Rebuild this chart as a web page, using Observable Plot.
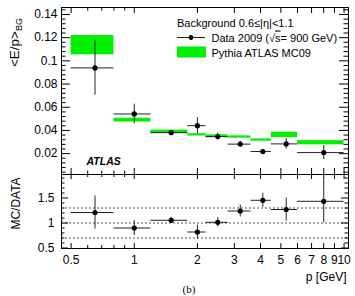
<!DOCTYPE html>
<html><head><meta charset="utf-8">
<script src="https://cdn.jsdelivr.net/npm/d3@7"></script>
<script src="https://cdn.jsdelivr.net/npm/@observablehq/plot@0.6"></script>
<style>
body{margin:0;background:#fff;}
#wrap{position:relative;width:355px;height:296px;overflow:hidden;font-family:"Liberation Sans",Arial,sans-serif;background:#fff;}
#wrap svg{position:absolute;left:0;}
</style></head><body><div id="wrap"></div>
<script>
// ---- data ----
const binLo = [0.5, 0.8, 1.2, 1.8, 2.2, 2.8, 3.6, 4.5, 6];
const binHi = [0.8, 1.2, 1.8, 2.2, 2.8, 3.6, 4.5, 6, 10];
const pCenter = [0.65, 1.0, 1.5, 2.0, 2.5, 3.2, 4.1, 5.3, 8.0];
const dataVal = [0.0939, 0.0542, 0.0381, 0.0441, 0.0347, 0.0282, 0.0218, 0.0284, 0.0209];
const dataErr = [0.0235, 0.0085, 0.002, 0.007, 0.0029, 0.0024, 0.0018, 0.0045, 0.006];
const mcVal = [0.1135, 0.0489, 0.0388, 0.0362, 0.0350, 0.0343, 0.0317, 0.0361, 0.0294];
const mcErr = [0.0083, 0.0016, 0.0015, 0.0010, 0.0012, 0.0010, 0.0010, 0.0023, 0.0018];
const ratioVal = [1.21, 0.90, 1.054, 0.82, 1.014, 1.24, 1.454, 1.27, 1.434];
const ratioErr = [0.33, 0.15, 0.06, 0.14, 0.09, 0.12, 0.14, 0.23, 0.43];
const refLines = [0.7, 1.0, 1.3];

const xTicks = [0.5, 1, 2, 3, 4, 5, 6, 7, 8, 9, 10];
const xTickLabels = ["0.5", "1", "2", "3", "4", "5", "6", "7", "8", "9", "10"];
const xMinor = [0.6, 0.7, 0.8, 0.9];
const yTopTicks = [0.02, 0.04, 0.06, 0.08, 0.1, 0.12, 0.14];
const yTopLabels = ["0.02", "0.04", "0.06", "0.08", "0.1", "0.12", "0.14"];
const yBotTicks = [0.5, 1, 1.5];
const yBotLabels = ["0.5", "1", "1.5"];

const GREEN = "#00f000";
const INK = "#222";

const rows = binLo.map((lo, i) => ({
  lo, hi: binHi[i], p: pCenter[i], v: dataVal[i], e: dataErr[i],
  mc: mcVal[i], me: mcErr[i], r: ratioVal[i], re: ratioErr[i]
}));
const xLabelRows = xTicks.map((t, i) => ({t, label: xTickLabels[i]}));

const yTopMinor = d3.range(1, 37).map(k => +(k * 0.004).toFixed(3)).filter(v => !yTopTicks.some(t => Math.abs(t - v) < 1e-9));
const yBotMinor = d3.range(5, 20).map(k => +(k * 0.1).toFixed(1)).filter(v => !yBotTicks.some(t => Math.abs(t - v) < 1e-9));

const L = 61, R = 348;
const W = R - L;
const T1 = 7, B1 = 174, T2 = 174, B2 = 248;
const H1 = B1 - T1, H2 = B2 - T2;
const xDomain = [0.45, 10.5];
const font = '"Liberation Sans", Arial, sans-serif';
const style = {fontFamily: font, fontSize: "12px", color: "black", background: "transparent", overflow: "visible"};

function tickMarks(H, yMaj, yMin, yMajLen, yMinLen, xMajLen, xMinLen) {
  return [
    Plot.tickX(xTicks, {insetTop: H - xMajLen, stroke: "black"}),
    Plot.tickX(xTicks, {insetBottom: H - xMajLen, stroke: "black"}),
    Plot.tickX(xMinor, {insetTop: H - xMinLen, stroke: "black"}),
    Plot.tickX(xMinor, {insetBottom: H - xMinLen, stroke: "black"}),
    Plot.tickY(yMaj, {insetRight: W - yMajLen, stroke: "black"}),
    Plot.tickY(yMaj, {insetLeft: W - yMajLen, stroke: "black"}),
    Plot.tickY(yMin, {insetRight: W - yMinLen, stroke: "black"}),
    Plot.tickY(yMin, {insetLeft: W - yMinLen, stroke: "black"})
  ];
}

const topPlot = Plot.plot({
  width: 355, height: B1, marginTop: T1, marginBottom: 0, marginLeft: L, marginRight: 355 - R,
  x: {type: "log", domain: xDomain, axis: null},
  y: {domain: [0.002, 0.146], axis: null},
  style,
  marks: [
    Plot.rect(rows, {x1: "lo", x2: "hi", y1: d => d.mc - d.me, y2: d => d.mc + d.me, fill: GREEN}),
    Plot.ruleY(rows, {x1: "lo", x2: "hi", y: "v", stroke: INK, strokeWidth: 1}),
    Plot.ruleX(rows, {x: "p", y1: d => d.v - d.e, y2: d => d.v + d.e, stroke: INK, strokeWidth: 1}),
    Plot.dot(rows, {x: "p", y: "v", r: 2.6, fill: "black", stroke: null}),
    ...tickMarks(H1, yTopTicks, yTopMinor.filter(v => v > 0.002 && v < 0.146), 9, 4.5, 6, 3.5),
    Plot.frame({stroke: "black", strokeWidth: 1}),
    Plot.axisY(yTopTicks, {tickSize: 0, tickPadding: 4, fontSize: 12, label: null,
      tickFormat: d => yTopLabels[yTopTicks.indexOf(d)]})
  ]
});
topPlot.style.top = "0px";

const botPlot = Plot.plot({
  width: 355, height: 296 - T2, marginTop: 0, marginBottom: 296 - B2, marginLeft: L, marginRight: 355 - R,
  x: {type: "log", domain: xDomain, axis: null},
  y: {domain: [0.49, 1.97], axis: null},
  style,
  marks: [
    Plot.ruleY(refLines, {stroke: "#555", strokeDasharray: "2,2", strokeWidth: 1}),
    Plot.ruleY(rows, {x1: "lo", x2: "hi", y: "r", stroke: INK, strokeWidth: 1}),
    Plot.ruleX(rows, {x: "p", y1: d => d.r - d.re, y2: d => d.r + d.re, stroke: INK, strokeWidth: 1}),
    Plot.dot(rows, {x: "p", y: "r", r: 2.6, fill: "black", stroke: null}),
    ...tickMarks(H2, yBotTicks, yBotMinor, 7, 3.5, 5, 3),
    Plot.frame({stroke: "black", strokeWidth: 1}),
    Plot.axisY(yBotTicks, {tickSize: 0, tickPadding: 7, fontSize: 12, label: null,
      tickFormat: d => yBotLabels[yBotTicks.indexOf(d)]}),
    Plot.text(xLabelRows, {x: "t", text: "label", frameAnchor: "bottom", lineAnchor: "top",
      dy: 7, fontSize: 12, fill: "black"})
  ]
});
botPlot.style.top = T2 + "px";

const wrap = document.getElementById("wrap");
wrap.appendChild(topPlot);
wrap.appendChild(botPlot);

// ---- overlay texts and legend ----
const ov = d3.select(wrap).append("svg")
  .attr("width", 355).attr("height", 296).style("top", "0px")
  .style("font-family", font).style("overflow", "visible");

const yt = ov.append("text").attr("transform", "translate(18.5,18) rotate(-90)")
  .attr("text-anchor", "end").attr("font-size", 13.5);
yt.append("tspan").text("<E/p>");
yt.append("tspan").attr("font-size", 9).attr("dy", 3).text("BG");

ov.append("text").attr("transform", "translate(20,203.5) rotate(-90)")
  .attr("text-anchor", "middle").attr("font-size", 12).text("MC/DATA");

ov.append("text").attr("x", 86.5).attr("y", 164.5).attr("font-size", 10.5)
  .attr("font-weight", "bold").attr("font-style", "italic").text("ATLAS");

ov.append("text").attr("x", 177).attr("y", 27).attr("font-size", 11).text("Background 0.6≤|η|<1.1");
ov.append("line").attr("x1", 177).attr("x2", 205).attr("y1", 37.5).attr("y2", 37.5).attr("stroke", INK);
ov.append("line").attr("x1", 191).attr("x2", 191).attr("y1", 35).attr("y2", 40).attr("stroke", INK);
ov.append("circle").attr("cx", 191).attr("cy", 37.5).attr("r", 2.4).attr("fill", "black");
const dt = ov.append("text").attr("x", 211.5).attr("y", 41.5).attr("font-size", 11);
dt.append("tspan").text("Data 2009 (√");
dt.append("tspan").style("text-decoration", "overline").text("s");
dt.append("tspan").text("= 900 GeV)");
ov.append("rect").attr("x", 177).attr("y", 46.5).attr("width", 29).attr("height", 11).attr("fill", GREEN);
ov.append("text").attr("x", 211.5).attr("y", 56.5).attr("font-size", 11).text("Pythia ATLAS MC09");

ov.append("text").attr("x", 346.5).attr("y", 281).attr("text-anchor", "end").attr("font-size", 12).text("p [GeV]");
ov.append("text").attr("x", 189).attr("y", 292.5).attr("text-anchor", "middle")
  .attr("font-size", 11).attr("font-family", '"Liberation Serif", "DejaVu Serif", serif').text("(b)");
</script>
</body></html>
